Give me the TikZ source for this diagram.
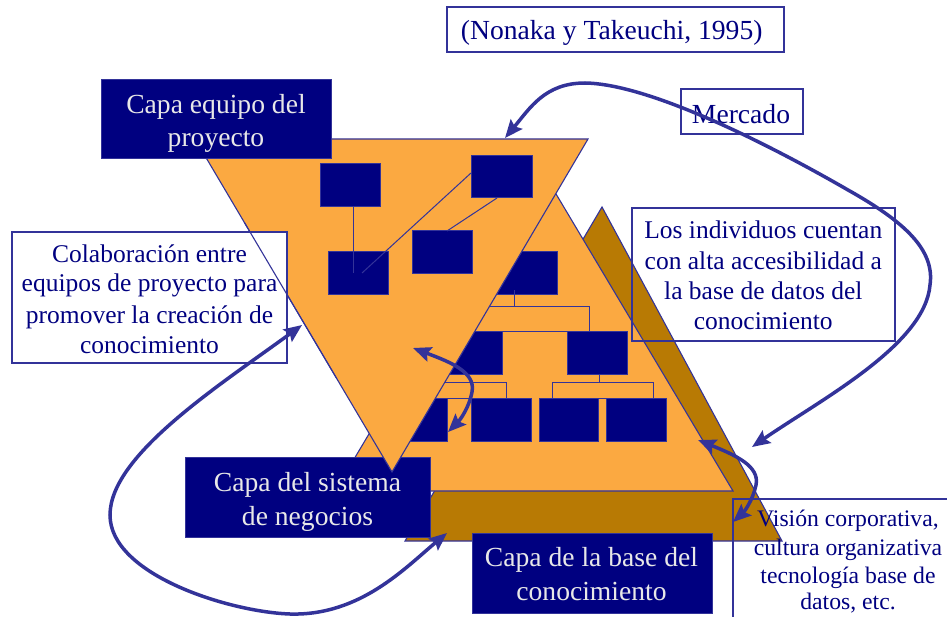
\documentclass[tikz,border=0pt]{standalone}
\usepackage{fontspec}
\setmainfont{Liberation Serif}
\usetikzlibrary{arrows.meta,calc}
\definecolor{navy}{HTML}{000080}
\definecolor{lblue}{HTML}{333399}
\definecolor{orng}{HTML}{FBA941}
\definecolor{brwn}{HTML}{B87A04}
\definecolor{wtxt}{HTML}{E8E8E8}
\begin{document}
\begin{tikzpicture}[x=1pt,y=-1pt,
  tri/.style={draw=lblue, line width=1.1pt, line join=miter},
  nbox/.style={draw=lblue, line width=1pt, fill=navy, inner sep=0pt, outer sep=0pt, anchor=north west},
  obox/.style={draw=lblue, line width=1.4pt, inner sep=0pt, outer sep=0pt, anchor=north west},
  org/.style={draw=lblue, line width=1pt},
  wtext/.style={text=wtxt, font=\fontsize{27.6}{33}\selectfont, inner sep=0pt, anchor=base},
  btext/.style={text=navy, font=\fontsize{25.5}{30}\selectfont, inner sep=0pt, anchor=base},
  ctext/.style={text=navy, font=\fontsize{27.6}{33}\selectfont, inner sep=0pt, anchor=base},
  vtext/.style={text=navy, font=\fontsize{23.7}{28}\selectfont, inner sep=0pt, anchor=base},
  arr/.style={draw=lblue, line width=3.5pt, arrows={Stealth[length=18pt,width=15pt,inset=3pt]-Stealth[length=18pt,width=15pt,inset=3pt]}}
]
\useasboundingbox (0,0) rectangle (947,617);
\clip (0,0) rectangle (947,617);

% brown triangle
\coordinate (bA) at (602,207); \coordinate (bR) at (782,541); \coordinate (bL) at (405,541);
\filldraw[tri, fill=brwn] (bA) -- (bR) -- (bL) -- cycle;

% orange pyramid
\coordinate (pA) at (534,157); \coordinate (pR) at (733,491); \coordinate (pL) at (335,491);
\filldraw[tri, fill=orng] (pA) -- (pR) -- (pL) -- cycle;

% pyramid org chart
\node[nbox, minimum width=60pt, minimum height=43pt] (E) at (497,252) {};
\node[nbox, minimum width=61pt, minimum height=42pt] (F) at (441,332) {};
\node[nbox, minimum width=60pt, minimum height=42pt] (G) at (567,332) {};
\node[nbox, minimum width=60pt, minimum height=43pt] (H) at (387,398) {};
\node[nbox, minimum width=60pt, minimum height=43pt] (I) at (471,398) {};
\node[nbox, minimum width=59pt, minimum height=43pt] (J) at (539,398) {};
\node[nbox, minimum width=60pt, minimum height=43pt] (K) at (606,398) {};
\coordinate (e1) at (514,290); \coordinate (e2) at (514,307);
\coordinate (r1a) at (470,307); \coordinate (r1b) at (589,332);
\coordinate (g1) at (599,374); \coordinate (g2) at (599,382);
\coordinate (r2a) at (430,382); \coordinate (r2b) at (506,398);
\coordinate (r3a) at (552,382); \coordinate (r3b) at (653,398);
\draw[org] (e1) -- (e2);
\draw[org] (r1a) rectangle (r1b);
\draw[org] (g1) -- (g2);
\draw[org] (r2a) rectangle (r2b);
\draw[org] (r3a) rectangle (r3b);

% business system layer box
\node[nbox, minimum width=245pt, minimum height=80pt] (sis) at (185,457) {};

% inverted triangle
\coordinate (iL) at (195,139); \coordinate (iR) at (588,139); \coordinate (iB) at (392,472);
\filldraw[tri, fill=orng] (iL) -- (iR) -- (iB) -- cycle;

% project team org chart
\node[nbox, minimum width=60pt, minimum height=43pt] (A) at (320,164) {};
\node[nbox, minimum width=61pt, minimum height=42pt] (B) at (471,156) {};
\node[nbox, minimum width=60pt, minimum height=43pt] (C) at (328,252) {};
\node[nbox, minimum width=60pt, minimum height=43pt] (D) at (412,231) {};
\coordinate (a1) at (353,207); \coordinate (c1) at (353,273);
\coordinate (b1) at (471,173); \coordinate (c2) at (362,273);
\coordinate (b2) at (497,198); \coordinate (d1) at (447,231);
\draw[org] (a1) -- (c1);
\draw[org] (b1) -- (c2);
\draw[org] (b2) -- (d1);

% label boxes
\node[nbox, minimum width=230pt, minimum height=79pt] (eq) at (101,80) {};
\node[obox, fill=white, minimum width=275pt, minimum height=131pt] (col) at (12,232) {};
\draw[tri] ($(iL)!0.25!(iB)$) -- ($(iL)!0.72!(iB)$);
\node[obox, minimum width=263pt, minimum height=133pt] (ind) at (632,208) {};
\node[obox, minimum width=260pt, minimum height=160pt] (vis) at (733,499) {};
\node[obox, minimum width=122pt, minimum height=45pt] (mer) at (681,89) {};
\node[obox, minimum width=337pt, minimum height=45pt] (non) at (447,7) {};
\node[nbox, minimum width=240pt, minimum height=80pt] (bas) at (472,533) {};

% texts
\node[wtext] (eqt1) at (216,114) {Capa equipo del};
\node[wtext] (eqt2) at (216,147) {proyecto};
\node[wtext] (sist1) at (307.5,491.7) {Capa del sistema};
\node[wtext] (sist2) at (307.5,525) {de negocios};
\node[wtext] (bast1) at (591.5,566.7) {Capa de la base del};
\node[wtext] (bast2) at (591.5,600) {conocimiento};
\node[ctext] (nont) at (611.7,39.3) {(Nonaka y Takeuchi, 1995)};
\node[ctext] (mert) at (741,123.3) {Mercado};
\node[btext] (colt1) at (149.5,262.7) {Colaboración entre};
\node[btext] (colt2) at (149.5,291.7) {equipos de proyecto para};
\node[btext] (colt3) at (149.5,323.3) {promover la creación de};
\node[btext] (colt4) at (149.5,353.3) {conocimiento};
\node[btext] (indt1) at (763.3,238.3) {Los individuos cuentan};
\node[btext] (indt2) at (763.3,269.3) {con alta accesibilidad a};
\node[btext] (indt3) at (763.3,299.3) {la base de datos del};
\node[btext] (indt4) at (763.3,329.3) {conocimiento};
\node[vtext] (vist1) at (848,526.7) {Visión corporativa,};
\node[vtext] (vist2) at (848,555) {cultura organizativa};
\node[vtext] (vist3) at (848,583.3) {tecnología base de};
\node[vtext] (vist4) at (848,609) {datos, etc.};

% arrows
\coordinate (mA) at (752,447); \coordinate (mB) at (505,138);
\draw[arr] (mB) .. controls (530,108) and (545,83) .. (585,83)
  .. controls (650,84) and (770,145) .. (848,190)
  .. controls (905,222) and (935,250) .. (930,285)
  .. controls (925,345) and (820,400) .. (mA);
\coordinate (cP) at (302,325); \coordinate (cQ) at (447,533);
\draw[arr] (cP) .. controls (220,385) and (110,455) .. (110,515)
  .. controls (110,575) and (230,612) .. (290,614)
  .. controls (360,616) and (405,568) .. (cQ);
\coordinate (sA) at (413,348); \coordinate (sB) at (448,432);
\draw[arr] (sA) .. controls (450,362) and (476,372) .. (472,392)
  .. controls (469,408) and (460,420) .. (sB);
\coordinate (rA) at (698,440); \coordinate (rB) at (733,522);
\draw[arr] (rA) .. controls (735,455) and (760,466) .. (756,485)
  .. controls (753,500) and (744,512) .. (rB);
\end{tikzpicture}
\end{document}
